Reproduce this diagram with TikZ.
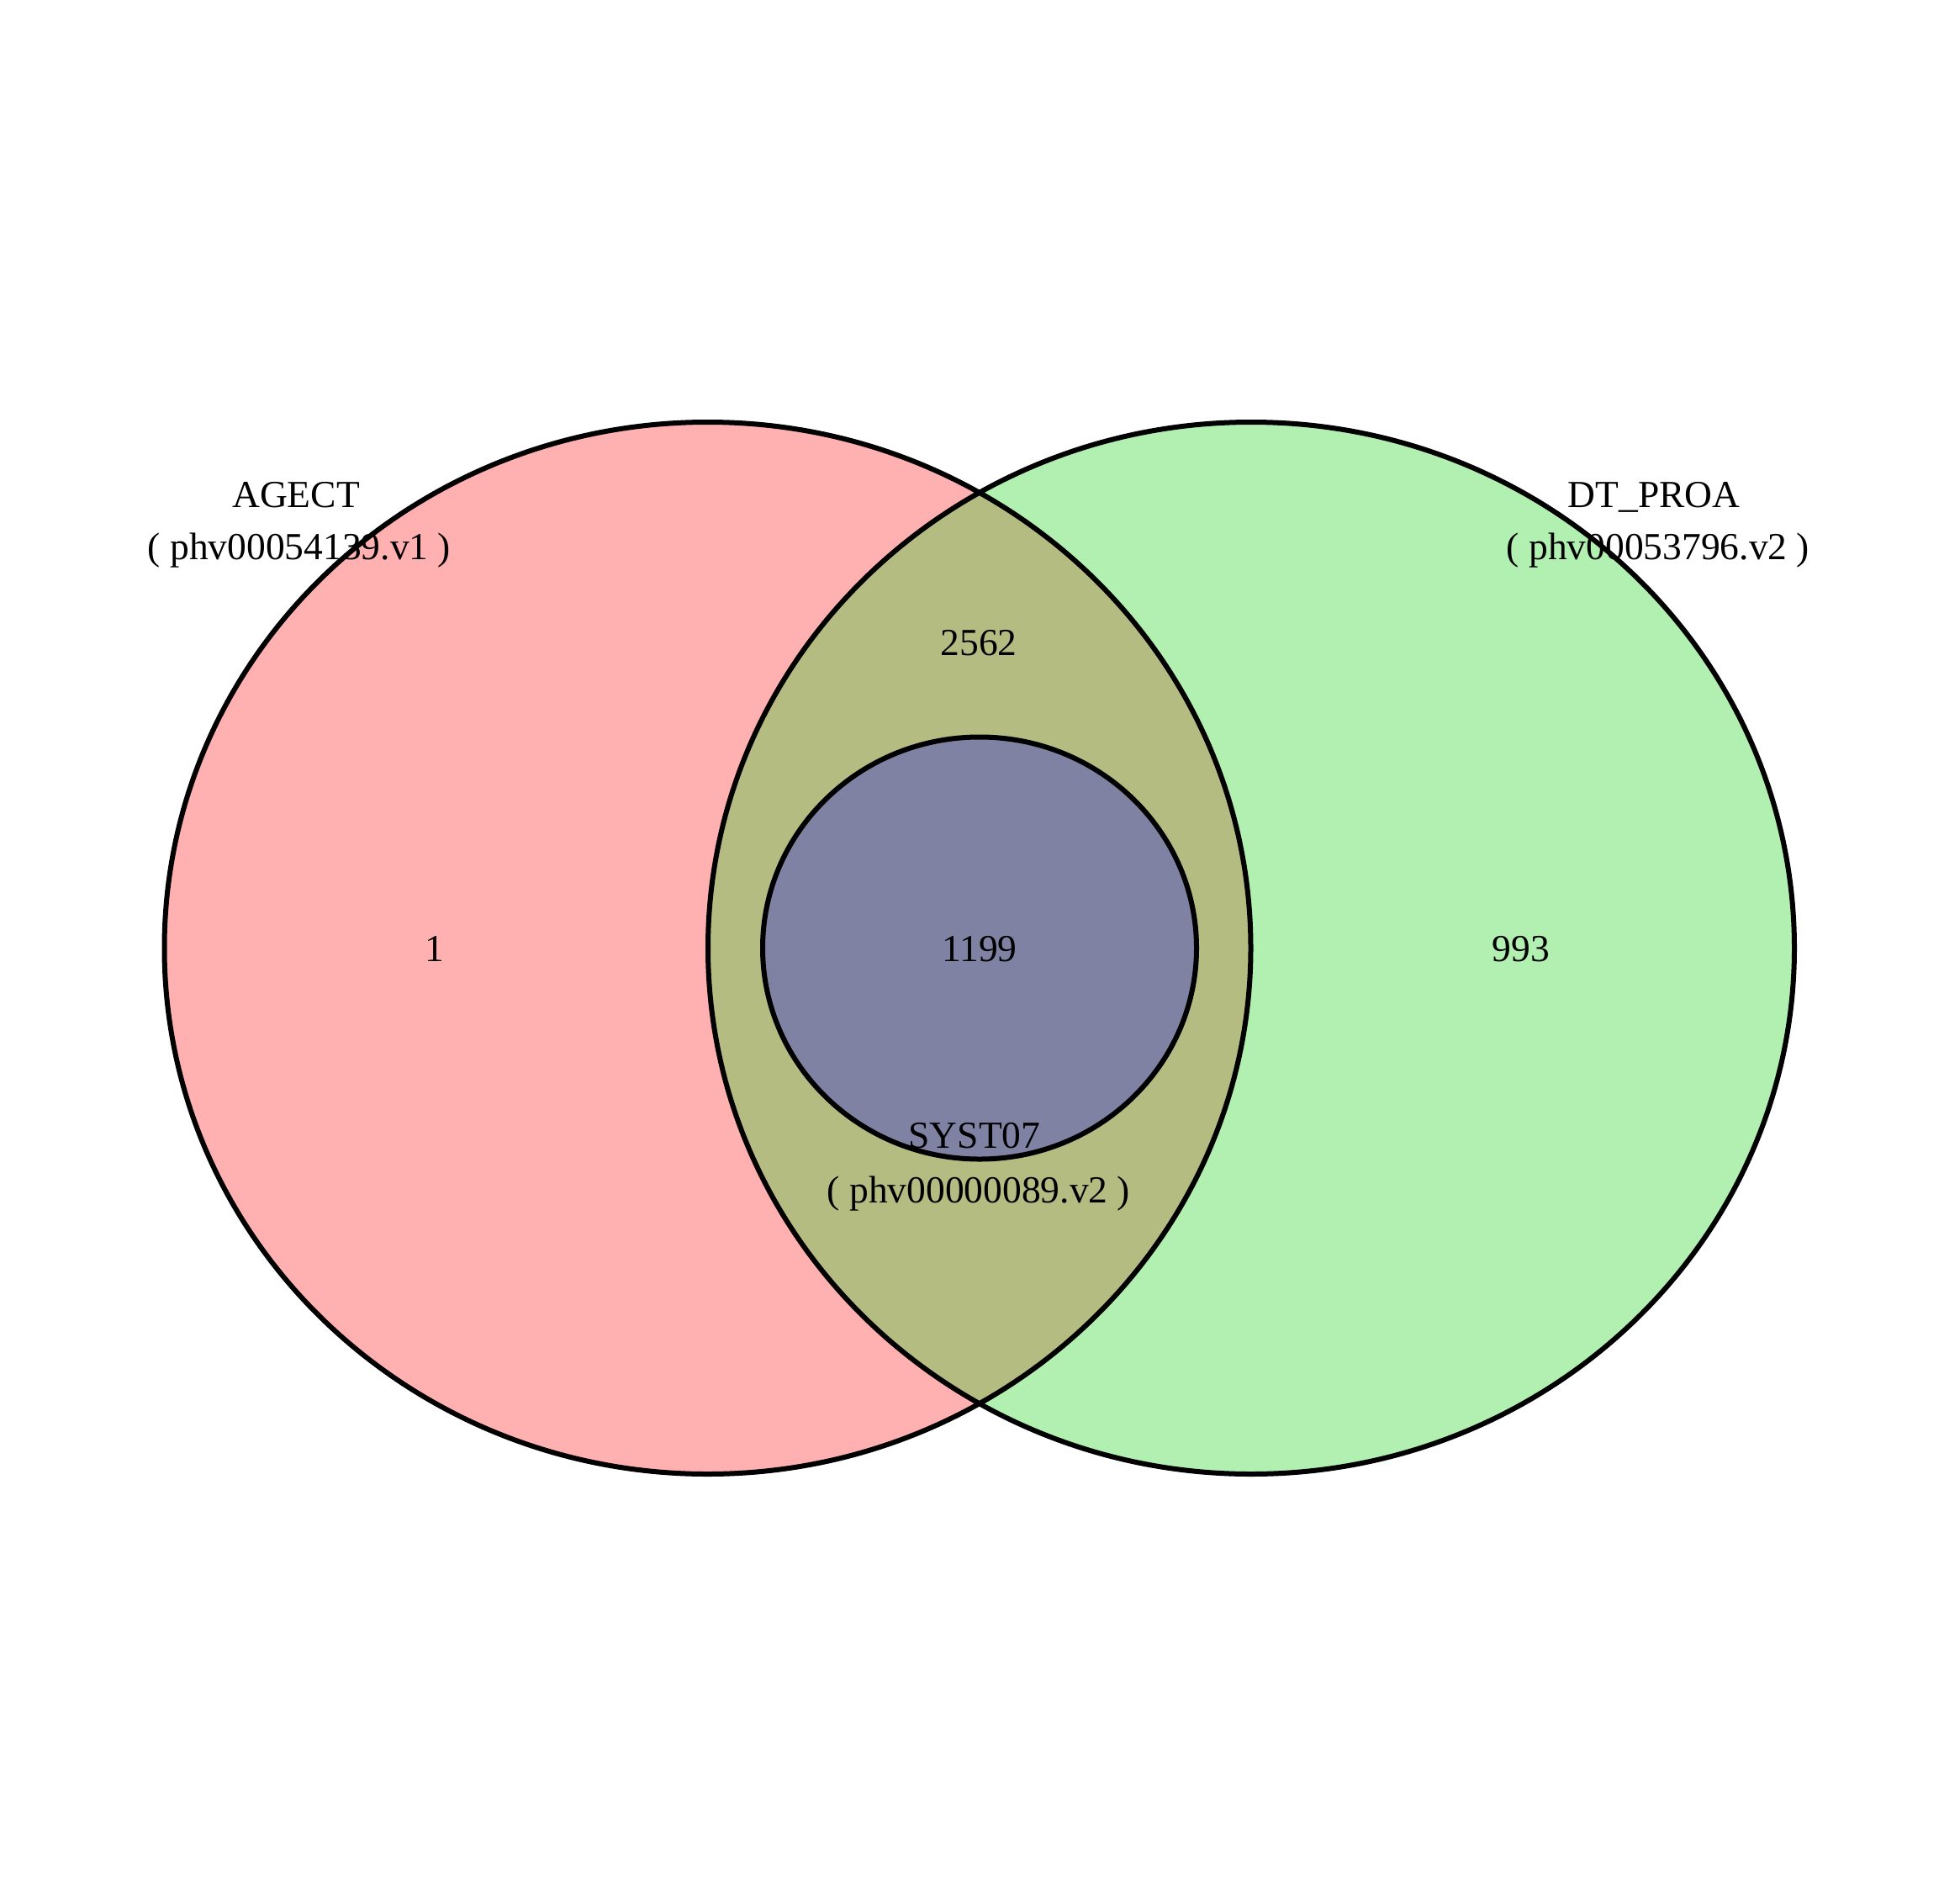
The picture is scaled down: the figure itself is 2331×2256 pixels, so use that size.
\documentclass[tikz,border=0pt]{standalone}
\usepackage{fontspec}
\setmainfont{Liberation Serif}
\definecolor{pinkfill}{RGB}{255,176,176}
\definecolor{greenfill}{RGB}{178,240,178}
\definecolor{olivefill}{RGB}{180,188,130}
\definecolor{bluefill}{RGB}{127,130,162}
\tikzset{
  vlabel/.style={anchor=base, inner sep=0pt, font=\fontsize{45.5}{55}\selectfont},
  vline/.style={line width=6pt, draw=black}
}
\begin{document}
\begin{tikzpicture}[x=1pt,y=-1pt]
\useasboundingbox (0,0) rectangle (2331,2256);
\fill[white] (0,0) rectangle (2331,2256);
% fills
\fill[pinkfill] (841.5,1127.5) ellipse [x radius=646, y radius=625.5];
\fill[greenfill] (1488,1127.5) ellipse [x radius=646, y radius=625.5];
\begin{scope}
  \clip (841.5,1127.5) ellipse [x radius=646, y radius=625.5];
  \fill[olivefill] (1488,1127.5) ellipse [x radius=646, y radius=625.5];
\end{scope}
\fill[bluefill] (1165,1127.5) ellipse [x radius=258, y radius=251];
% outlines
\draw[vline] (841.5,1127.5) ellipse [x radius=646, y radius=625.5];
\draw[vline] (1488,1127.5) ellipse [x radius=646, y radius=625.5];
\draw[vline] (1165,1127.5) ellipse [x radius=258, y radius=251];
% labels
\node[vlabel] (agect) at (352,603) {AGECT};
\node[vlabel] (agectid) at (356,665) {( phv00054139.v1 )};
\node[vlabel] (dtproa) at (1967,603) {DT\_PROA};
\node[vlabel] (dtproaid) at (1972,665) {( phv00053796.v2 )};
\node[vlabel] (syst) at (1159,1365) {SYST07};
\node[vlabel] (systid) at (1164,1430) {( phv00000089.v2 )};
\node[vlabel] (n2562) at (1164,779) {2562};
\node[vlabel] (n1199) at (1165,1143) {1199};
\node[vlabel] (n1) at (517,1143) {1};
\node[vlabel] (n993) at (1809,1143) {993};
\end{tikzpicture}
\end{document}
